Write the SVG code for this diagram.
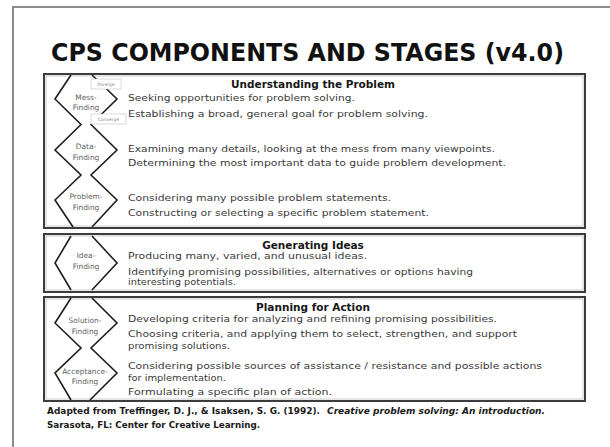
<svg xmlns="http://www.w3.org/2000/svg" width="610" height="447" viewBox="0 0 610 447">
  <style>
    .frame { fill: none; stroke: #8c8c8c; stroke-width: 2; }
    .box { fill: #fff; stroke: #3c3c3c; stroke-width: 2; }
    .boxin { fill: none; stroke: #b4b4b4; stroke-width: 0.7; }
    .zig { fill: none; stroke: #1e1e1e; stroke-width: 1.6; stroke-linejoin: miter; }
    .title { font-family: "DejaVu Sans", sans-serif; font-weight: bold; font-size: 24px; fill: #111; }
    .head { font-family: "DejaVu Sans", sans-serif; font-weight: bold; font-size: 10.5px; fill: #161616; text-anchor: middle; }
    .body { font-family: "DejaVu Sans", sans-serif; font-size: 9.5px; fill: #3a3a3a; }
    .stage { font-family: "DejaVu Sans", sans-serif; font-size: 7.4px; fill: #5e5e5e; text-anchor: middle; }
    .tag { fill: #fff; stroke: #c4c4c4; stroke-width: 0.6; }
    .tagtxt { font-family: "DejaVu Sans", sans-serif; font-size: 4.4px; fill: #888; text-anchor: middle; }
    .foot { font-family: "DejaVu Sans", sans-serif; font-weight: bold; font-size: 8.6px; fill: #1a1a1a; }
  </style>

  <rect width="610" height="447" fill="#fff"/>
  <path class="frame" d="M13 447 V7 H610"/>

  <text class="title" x="51" y="61" textLength="513" lengthAdjust="spacingAndGlyphs">CPS COMPONENTS AND STAGES (v4.0)</text>

  <!-- Component 1: Understanding the Problem -->
  <g id="understanding-the-problem">
    <rect class="box" x="44" y="74" width="541" height="154"/>
    <rect class="boxin" x="46" y="76" width="537" height="150"/>
    <text class="head" x="313" y="88">Understanding the Problem</text>
    <polyline class="zig" points="71,75 55,99 81,124.5 55,150 81,175 55,200 73,227"/>
    <polyline class="zig" points="92,75 117,99 91,124.5 117,150 91,175 117,200 92,227"/>
    <g id="diverge-tag">
      <rect class="tag" x="91" y="79" width="30" height="10"/>
      <text class="tagtxt" x="106" y="85.6">Diverge</text>
    </g>
    <g id="converge-tag">
      <rect class="tag" x="91" y="114" width="35" height="10"/>
      <text class="tagtxt" x="108.5" y="120.6">Converge</text>
    </g>
    <g id="mess-finding">
      <text class="stage" x="86" y="99.5">Mess-</text>
      <text class="stage" x="86" y="109.5">Finding</text>
      <text class="body" x="128" y="101" textLength="227" lengthAdjust="spacingAndGlyphs">Seeking opportunities for problem solving.</text>
      <text class="body" x="128" y="116.5" textLength="300" lengthAdjust="spacingAndGlyphs">Establishing a broad, general goal for problem solving.</text>
    </g>
    <g id="data-finding">
      <text class="stage" x="86" y="149">Data-</text>
      <text class="stage" x="86" y="160">Finding</text>
      <text class="body" x="128" y="152" textLength="367" lengthAdjust="spacingAndGlyphs">Examining many details, looking at the mess from many viewpoints.</text>
      <text class="body" x="128" y="166" textLength="378" lengthAdjust="spacingAndGlyphs">Determining the most important data to guide problem development.</text>
    </g>
    <g id="problem-finding">
      <text class="stage" x="86" y="198.5">Problem-</text>
      <text class="stage" x="86" y="209.5">Finding</text>
      <text class="body" x="128" y="201" textLength="263" lengthAdjust="spacingAndGlyphs">Considering many possible problem statements.</text>
      <text class="body" x="128" y="215.5" textLength="301" lengthAdjust="spacingAndGlyphs">Constructing or selecting a specific problem statement.</text>
    </g>
  </g>

  <!-- Component 2: Generating Ideas -->
  <g id="generating-ideas">
    <rect class="box" x="44" y="234" width="541" height="58"/>
    <rect class="boxin" x="46" y="236" width="537" height="54"/>
    <text class="head" x="313" y="249">Generating Ideas</text>
    <polyline class="zig" points="71,236 55,263 71,290"/>
    <polyline class="zig" points="92,236 117,263 92,290"/>
    <g id="idea-finding">
      <text class="stage" x="86" y="258">Idea-</text>
      <text class="stage" x="86" y="268.5">Finding</text>
      <text class="body" x="128" y="259" textLength="239" lengthAdjust="spacingAndGlyphs">Producing many, varied, and unusual ideas.</text>
      <text class="body" x="128" y="274.5" textLength="345" lengthAdjust="spacingAndGlyphs">Identifying promising possibilities, alternatives or options having</text>
      <text class="body" x="128" y="285" textLength="108" lengthAdjust="spacingAndGlyphs">interesting potentials.</text>
    </g>
  </g>

  <!-- Component 3: Planning for Action -->
  <g id="planning-for-action">
    <rect class="box" x="44" y="297" width="541" height="104"/>
    <rect class="boxin" x="46" y="299" width="537" height="100"/>
    <text class="head" x="313" y="311">Planning for Action</text>
    <polyline class="zig" points="71,298 55,323 81,348 55,373 71,400"/>
    <polyline class="zig" points="92,298 117,323 91,348 117,373 90,400"/>
    <g id="solution-finding">
      <text class="stage" x="85" y="322.5">Solution-</text>
      <text class="stage" x="85" y="333.5">Finding</text>
      <text class="body" x="128" y="322" textLength="369" lengthAdjust="spacingAndGlyphs">Developing criteria for analyzing and refining promising possibilities.</text>
      <text class="body" x="128" y="337" textLength="389" lengthAdjust="spacingAndGlyphs">Choosing criteria, and applying them to select, strengthen, and support</text>
      <text class="body" x="128" y="349" textLength="102" lengthAdjust="spacingAndGlyphs">promising solutions.</text>
    </g>
    <g id="acceptance-finding">
      <text class="stage" x="85" y="373.5">Acceptance-</text>
      <text class="stage" x="85" y="384">Finding</text>
      <text class="body" x="128" y="369" textLength="414" lengthAdjust="spacingAndGlyphs">Considering possible sources of assistance / resistance and possible actions</text>
      <text class="body" x="128" y="381" textLength="98" lengthAdjust="spacingAndGlyphs">for implementation.</text>
      <text class="body" x="128" y="395" textLength="204" lengthAdjust="spacingAndGlyphs">Formulating a specific plan of action.</text>
    </g>
  </g>

  <!-- Source reference -->
  <g id="citation">
    <text class="foot" x="47" y="414" textLength="273" lengthAdjust="spacingAndGlyphs">Adapted from Treffinger, D. J., &amp; Isaksen, S. G. (1992).</text>
    <text class="foot" x="327" y="414" font-style="italic" textLength="218" lengthAdjust="spacingAndGlyphs">Creative problem solving: An introduction.</text>
    <text class="foot" x="47" y="428" textLength="213" lengthAdjust="spacingAndGlyphs">Sarasota, FL: Center for Creative Learning.</text>
  </g>
</svg>
